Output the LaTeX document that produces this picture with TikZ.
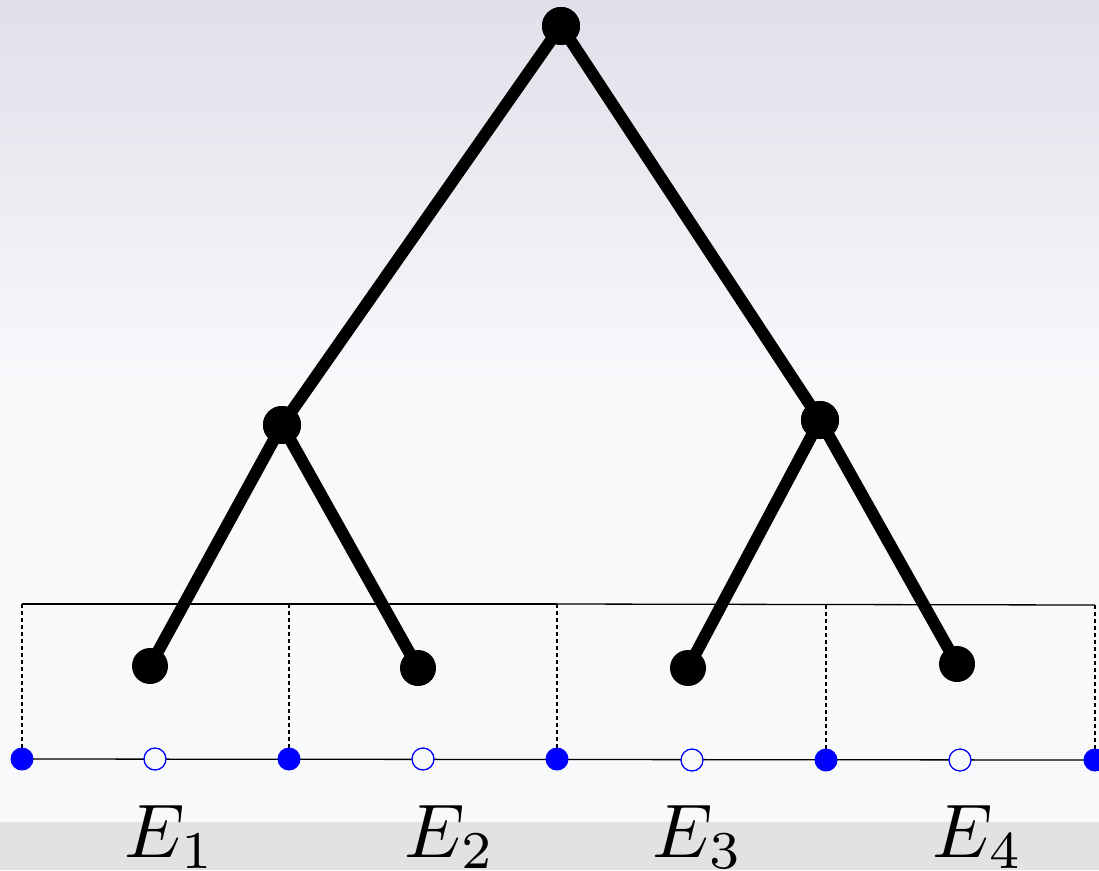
\documentclass[tikz,border=0pt]{standalone}
\usepackage{amsmath}
\usetikzlibrary{positioning}
\definecolor{bgtop}{HTML}{DFE0E9}
\definecolor{bglow}{HTML}{F8F9FB}
\definecolor{bgstrip}{HTML}{E2E2E4}
\tikzset{
  vtx/.style={circle,fill=black,inner sep=0pt,minimum size=38pt},
  leaf/.style={circle,fill=black,inner sep=0pt,minimum size=36pt},
  branch/.style={line width=12pt},
  cut/.style={circle,fill=blue,inner sep=0pt,minimum size=23pt},
  ctr/.style={circle,draw=blue,fill=bglow,line width=1.3pt,inner sep=0pt,minimum size=22pt},
  frame/.style={line width=1.3pt},
  drop/.style={line width=1.1pt,dash pattern=on 4pt off 3pt},
  lbl/.style={anchor=base,inner sep=0pt,scale=7.6},
}

\begin{document}
\begin{tikzpicture}[x=1pt,y=-1pt]
  \useasboundingbox (0,0) rectangle (1099,870);
  \clip (0,0) rectangle (1099,870);
  % background
  \shade[top color=bgtop,bottom color=bglow] (0,0) rectangle (1099,380);
  \fill[bglow] (0,379) rectangle (1099,823);
  \fill[bgstrip] (0,822) rectangle (1099,870);

  % tree
  \node[vtx] (root) at (561,26) {};
  \node[vtx] (nl) at (282,425) {};
  \node[vtx] (nr) at (820,420) {};
  \node[leaf] (l1) at (150,666) {};
  \node[leaf] (l2) at (418,668) {};
  \node[leaf] (l3) at (688,668) {};
  \node[leaf] (l4) at (957,664) {};
  \draw[branch] (root.center) -- (nl.center);
  \draw[branch] (root.center) -- (nr.center);
  \draw[branch] (nl.center) -- (l1.center);
  \draw[branch] (nl.center) -- (l2.center);
  \draw[branch] (nr.center) -- (l3.center);
  \draw[branch] (nr.center) -- (l4.center);
  \node[vtx] at (root) {};
  \node[vtx] at (nl) {};
  \node[vtx] at (nr) {};

  % intervals
  \coordinate (t0) at (22,604);
  \coordinate (t1) at (289,604);
  \coordinate (t2) at (557,604);
  \coordinate (t3) at (826,605);
  \coordinate (t4) at (1095,605);
  \coordinate (b0) at (22,759);
  \coordinate (b4) at (1095,760);
  \draw[frame] (t0) -- (t2);
  \draw[frame] (t2) -- (t4);
  \draw[frame] (b0) -- (b4);
  \draw[drop] (t0) -- (b0);
  \draw[drop] (t1) -- (289,759);
  \draw[drop] (t2) -- (557,759);
  \draw[drop] (t3) -- (826,760);
  \draw[drop] (t4) -- (b4);
  \node[cut] (c0) at (22,759) {};
  \node[cut] (c1) at (289,759) {};
  \node[cut] (c2) at (557,759) {};
  \node[cut] (c3) at (826,760) {};
  \node[cut] (c4) at (1095,760) {};
  \node[ctr] (m1) at (155,759) {};
  \node[ctr] (m2) at (423,759) {};
  \node[ctr] (m3) at (692,760) {};
  \node[ctr] (m4) at (960,760) {};

  % labels
  \node[lbl] (e1) at (170,857) {$E_1$};
  \node[lbl] (e2) at (450,857) {$E_2$};
  \node[lbl] (e3) at (698,857) {$E_3$};
  \node[lbl] (e4) at (978,857) {$E_4$};
\end{tikzpicture}
\end{document}
